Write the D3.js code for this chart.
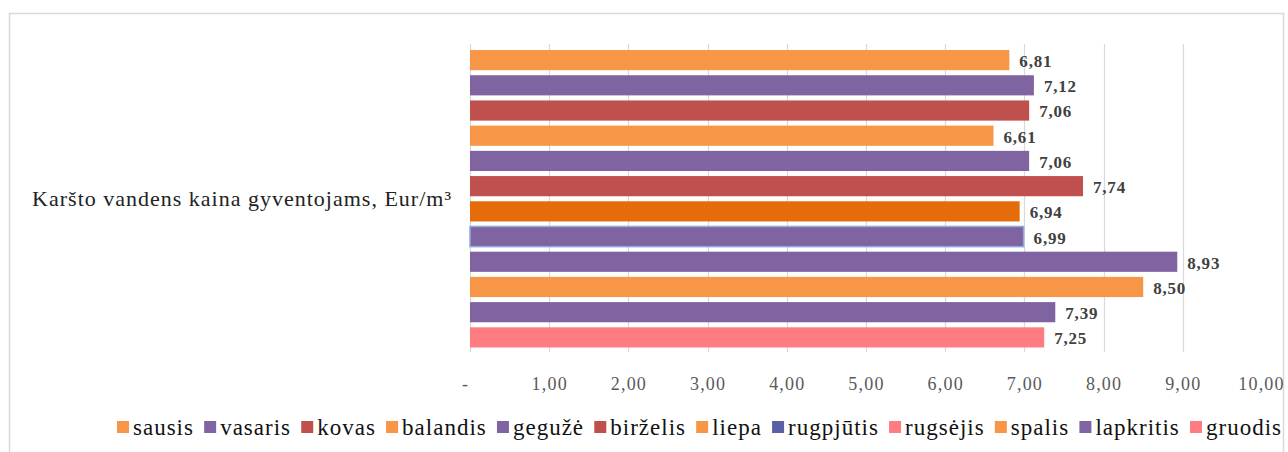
<!DOCTYPE html>
<html>
<head>
<meta charset="utf-8">
<title>Karšto vandens kaina</title>
<style>
  body { margin: 0; background: #fff; }
  svg { display: block; }
</style>
</head>
<body>
<div id="chart"></div>
<script src="https://cdn.jsdelivr.net/npm/d3@7"></script>
<script>

// data
var category = "Karšto vandens kaina gyventojams, Eur/m³";
var months = ["sausis","vasaris","kovas","balandis","gegužė","birželis",
              "liepa","rugpjūtis","rugsėjis","spalis","lapkritis","gruodis"];
var values = [6.81, 7.12, 7.06, 6.61, 7.06, 7.74, 6.94, 6.99, 8.93, 8.50, 7.39, 7.25];
var ticks = [0,1,2,3,4,5,6,7,8,9,10];

// bar colours as they appear in the plot, and legend swatches as they appear in the key
var barColors = ["#F79646","#8064A2","#C0504D","#F79646","#8064A2","#C0504D",
                 "#E46C0A","#8064A2","#8064A2","#F79646","#8064A2","#FF7C80"];
var barStrokes = [null,null,null,null,null,null,null,"#8EA9DB",null,null,null,null];
var legendColors = ["#F79646","#8064A2","#C0504D","#F79646","#8064A2","#C0504D",
                    "#F79646","#5B5FA6","#FF7C80","#F79646","#8064A2","#FF7C80"];

var w = 1288, h = 452;
var serif = "'Liberation Serif','Times New Roman',serif";

var svg = d3.select("#chart").append("svg")
    .attr("width", w).attr("height", h);

// chart border
svg.append("rect")
    .attr("x", 9.5).attr("y", 13.5)
    .attr("width", 1274).attr("height", 460)
    .attr("fill", "#fff").attr("stroke", "#d9d9d9").attr("stroke-width", 1.5);

var x = d3.scaleLinear().domain([0, 10]).range([470, 1262]);
var y = d3.scaleBand().domain(months).range([47.5, 350])
    .paddingInner(0.2).paddingOuter(0.1);

// gridlines (no line at 10)
svg.append("g").selectAll("line")
    .data(ticks.filter(function(t){ return t < 10; }))
    .enter().append("line")
    .attr("x1", function(d){ return Math.round(x(d)) + 0.5; })
    .attr("x2", function(d){ return Math.round(x(d)) + 0.5; })
    .attr("y1", 44).attr("y2", 352)
    .attr("stroke", "#d9d9d9").attr("stroke-width", 1.2);

// x axis labels
var fmt = function(d){ return d === 0 ? "-" : d3.format(".2f")(d).replace(".", ","); };
var xAxis = svg.append("g")
    .attr("transform", "translate(0,374)")
    .call(d3.axisBottom(x).tickValues(ticks).tickFormat(fmt).tickSize(0));
xAxis.select(".domain").remove();
xAxis.selectAll("text")
    .attr("font-family", serif).attr("font-size", 18)
    .attr("letter-spacing", 1.2)
    .attr("fill", "#595959")
    .attr("dx", function(d){ return d === 0 ? -5 : (d === 10 ? -1 : 0); });

// bars
svg.append("g").selectAll("rect")
    .data(values)
    .enter().append("rect")
    .attr("x", x(0))
    .attr("y", function(d, i){ return y(months[i]); })
    .attr("width", function(d){ return x(d) - x(0); })
    .attr("height", y.bandwidth())
    .attr("fill", function(d, i){ return barColors[i]; })
    .attr("stroke", function(d, i){ return barStrokes[i] || "none"; })
    .attr("stroke-width", 1.5);

// value labels
svg.append("g").selectAll("text")
    .data(values)
    .enter().append("text")
    .attr("x", function(d){ return x(d) + 10; })
    .attr("y", function(d, i){ return y(months[i]) + y.bandwidth() / 2 + 1; })
    .attr("dy", "0.35em")
    .attr("font-family", serif).attr("font-size", 17).attr("font-weight", "bold")
    .attr("letter-spacing", 0.8)
    .attr("fill", "#404040")
    .text(function(d){ return d3.format(".2f")(d).replace(".", ","); });

// category label
svg.append("text")
    .attr("x", 452).attr("y", 198)
    .attr("dy", "0.35em")
    .attr("text-anchor", "end")
    .attr("font-family", serif).attr("font-size", 22)
    .attr("letter-spacing", 1)
    .attr("fill", "#222")
    .text(category);

// legend, laid out in a row from the left
var legend = svg.append("g").attr("transform", "translate(0,427)");
var items = legend.selectAll("g").data(months).enter().append("g");
items.append("rect")
    .attr("y", -6).attr("width", 12).attr("height", 12)
    .attr("fill", function(d, i){ return legendColors[i]; });
items.append("text")
    .attr("x", 16).attr("dy", "0.35em")
    .attr("font-family", serif).attr("font-size", 23)
    .attr("letter-spacing", 1)
    .attr("fill", "#111")
    .text(function(d){ return d; });

var widths = [];
items.each(function(){ widths.push(this.getBBox().width); });
var left = 117, right = 1282;
var gap = (right - left - d3.sum(widths)) / (widths.length - 1);
var pos = left;
items.attr("transform", function(d, i){
    var t = "translate(" + pos + ",0)";
    pos += widths[i] + gap;
    return t;
});

</script>
</body>
</html>
